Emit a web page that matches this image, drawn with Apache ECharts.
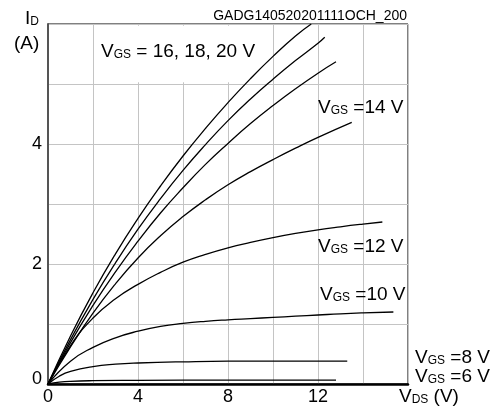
<!DOCTYPE html>
<html>
<head>
<meta charset="utf-8">
<script src="https://cdn.jsdelivr.net/npm/echarts@6/dist/echarts.min.js"></script>
<style>
  html, body { margin: 0; padding: 0; background: #fff; }
  #chart { width: 502px; height: 408px; }
</style>
</head>
<body>
<div id="chart"></div>
<script>
// Output characteristics I_D = f(V_DS), one curve per gate voltage
const vgs20 = [[0,0],[1,0.8],[2,1.52],[3,2.17],[4,2.76],[5,3.3],[6,3.8],[7,4.26],[8,4.69],[9,5.09],[10,5.46],[11,5.8],[11.7,6.0]];
const vgs18 = [[0,0],[1,0.74],[2,1.41],[3,2.02],[4,2.58],[5,3.09],[6,3.56],[7,3.99],[8,4.39],[9,4.75],[10,5.08],[11,5.39],[12,5.68],[12.3,5.78]];
const vgs16 = [[0,0],[1,0.69],[2,1.31],[3,1.87],[4,2.38],[5,2.85],[6,3.27],[7,3.66],[8,4.01],[9,4.34],[10,4.64],[11,4.92],[12,5.18],[12.8,5.37]];
const vgs14 = [[0,0],[1,0.62],[2,1.18],[3,1.67],[4,2.1],[5,2.47],[6,2.79],[7,3.07],[8,3.32],[9,3.54],[10,3.74],[11,3.93],[12,4.11],[13.5,4.36]];
const vgs12 = [[0,0],[1,0.64],[2,1.1],[3,1.42],[4,1.66],[5,1.86],[6,2.03],[7,2.16],[8,2.27],[9,2.36],[10,2.44],[11,2.51],[12,2.57],[13,2.62],[14,2.665],[14.86,2.7]];
const vgs10 = [[0,0],[1,0.38],[2,0.61],[3,0.77],[4,0.88],[5,0.96],[6,1.01],[7,1.045],[8,1.07],[9,1.09],[10,1.11],[11,1.13],[12,1.15],[13,1.17],[14,1.185],[15.35,1.2]];
const vgs8  = [[0,0],[0.5,0.13],[1,0.21],[2,0.29],[3,0.33],[4,0.35],[6,0.37],[8,0.38],[10,0.38],[12,0.38],[13.3,0.38]];
const vgs6  = [[0,0],[0.5,0.03],[1,0.045],[2,0.055],[4,0.06],[8,0.065],[12.8,0.065]];

const curves = [vgs20, vgs18, vgs16, vgs14, vgs12, vgs10, vgs8, vgs6];

// Axis ranges and labelled ticks
const xMax = 16, xStep = 2, xLabels = [0, 4, 8, 12];
const yMax = 6, yStep = 1, yLabels = [0, 2, 4];

// Cells kept free of grid lines behind the curve annotations: [V1, I1, V2, I2]
const clearCells = [[2.05, 5.03, 9.95, 5.97], [14.05, 4.03, 15.95, 4.97], [14.05, 2.03, 15.95, 2.97], [14.05, 1.03, 15.95, 1.97]];

const FONT = '"Liberation Sans", Arial, sans-serif';

function vgsLabel(value) {
  return '{m|V}{s|GS}{m|' + value + '}';
}
const richStyle = {
  m: { fontSize: 19, fontFamily: FONT, fill: '#000', verticalAlign: 'bottom', lineHeight: 22 },
  s: { fontSize: 12, fontFamily: FONT, fill: '#000', verticalAlign: 'bottom', lineHeight: 22 }
};

const annotations = [
  { x: 101, y: 39, text: vgsLabel(' = 16, 18, 20 V') },
  { x: 318, y: 95, text: vgsLabel(' =14 V') },
  { x: 318, y: 234, text: vgsLabel(' =12 V') },
  { x: 320, y: 282, text: vgsLabel(' =10 V') },
  { x: 415, y: 345, text: vgsLabel(' =8 V') },
  { x: 415, y: 364, text: vgsLabel(' =6 V') },
  { x: 399, y: 384, text: '{m|V}{s|DS}{m| (V)}' },
  { x: 25, y: 6, text: '{m|I}{s|D}' },
  { x: 14, y: 31, text: '{m|(A)}' }
];

const chart = echarts.init(document.getElementById('chart'), null, { renderer: 'canvas' });

const series = curves.map(d => ({
  type: 'line',
  data: d,
  smooth: 0.5,
  showSymbol: false,
  silent: true,
  z: 5,
  lineStyle: { color: '#000', width: 1.3 }
}));

series.push({
  type: 'line',
  data: [],
  silent: true,
  z: 1,
  markArea: {
    silent: true,
    itemStyle: { color: '#fff' },
    data: clearCells.map(c => [{ coord: [c[0], c[1]] }, { coord: [c[2], c[3]] }])
  }
});

chart.setOption({
  animation: false,
  backgroundColor: '#fff',
  grid: {
    left: 48, top: 24, width: 360, height: 360,
    show: true, borderColor: '#000', borderWidth: 1, backgroundColor: 'transparent'
  },
  xAxis: {
    type: 'value', min: 0, max: xMax, interval: xStep,
    axisLine: { show: true, onZero: false, lineStyle: { color: '#000', width: 2.5 } },
    axisTick: { show: false },
    splitLine: { show: true, lineStyle: { color: '#c4c4c4', width: 1 } },
    axisLabel: {
      margin: 4, fontSize: 18, fontFamily: FONT, color: '#000',
      formatter: v => (xLabels.indexOf(v) >= 0 ? String(v) : '')
    }
  },
  yAxis: {
    type: 'value', min: 0, max: yMax, interval: yStep,
    axisLine: { show: true, onZero: false, lineStyle: { color: '#555', width: 2 } },
    axisTick: { show: false },
    splitLine: { show: true, lineStyle: { color: '#c4c4c4', width: 1 } },
    axisLabel: {
      margin: 6, fontSize: 18, fontFamily: FONT, color: '#000',
      formatter: v => (yLabels.indexOf(v) < 0 ? '' : (v === 0 ? '{z|0}' : String(v))),
      rich: { z: { fontSize: 18, fontFamily: FONT, color: '#000', padding: [0, 0, 10, 0] } }
    }
  },
  graphic: [
    {
      type: 'text', right: 95, top: 9, z: 10,
      style: { text: 'GADG140520201111OCH_200', fontSize: 14, fontFamily: FONT, fill: '#000' }
    }
  ].concat(annotations.map(a => ({
    type: 'text', x: a.x, y: a.y, z: 10,
    style: { text: a.text, rich: richStyle, fontFamily: FONT, fill: '#000' }
  }))),
  series: series
});
</script>
</body>
</html>
